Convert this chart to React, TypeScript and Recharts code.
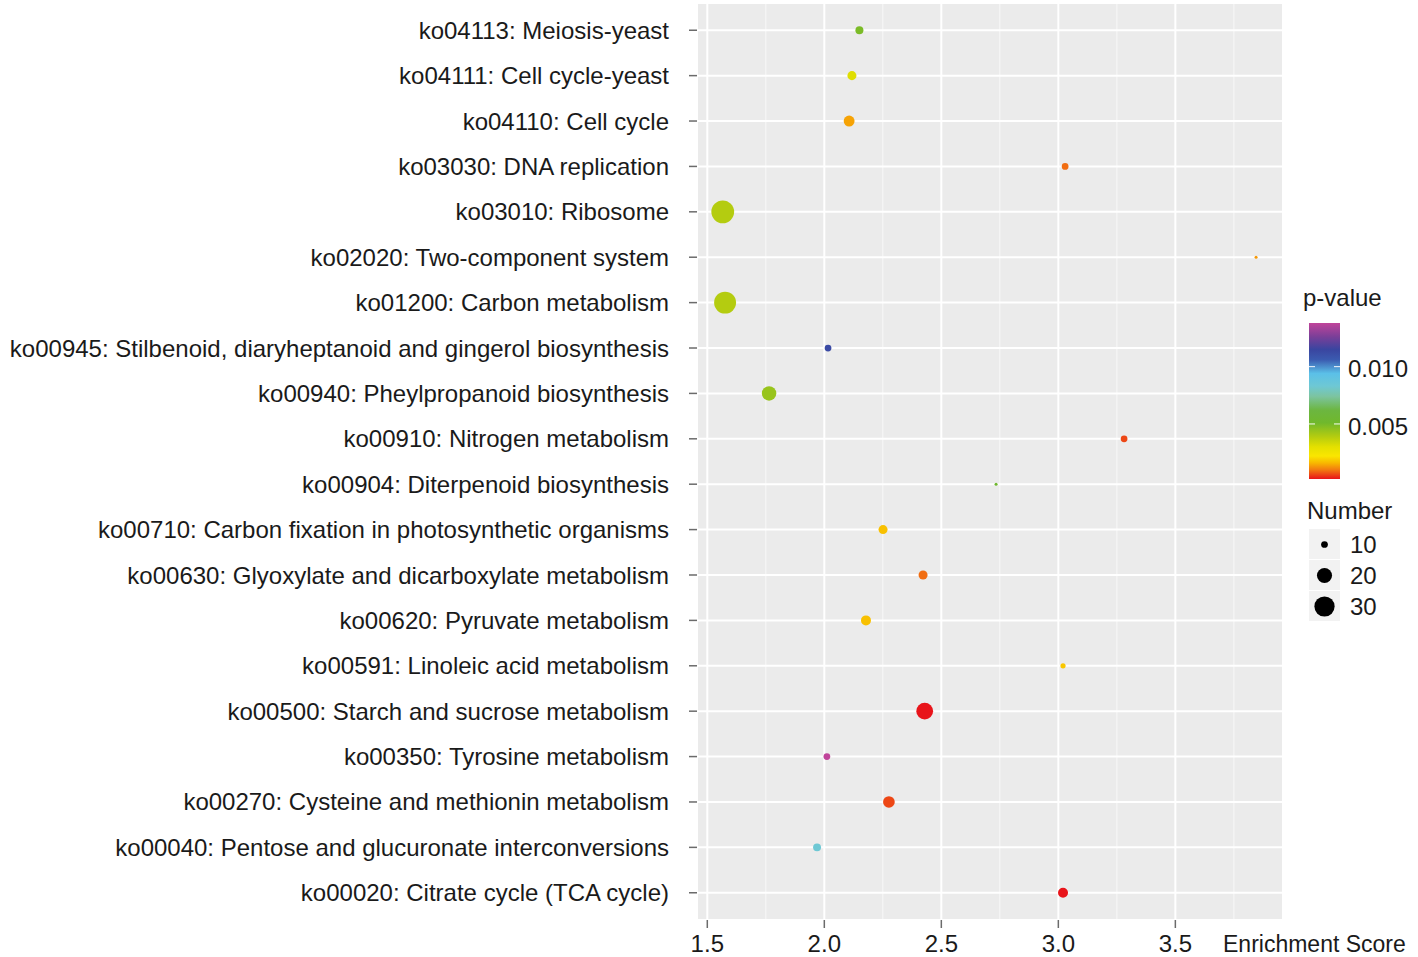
import { ScatterChart, Scatter, XAxis, YAxis, ZAxis, CartesianGrid, Cell } from "recharts";

const FONT = '"Liberation Sans", Arial, Helvetica, sans-serif';
const TEXT = "#1a1a1a";
const FS = 24;

// rows, top to bottom as drawn
const categories = [
  "ko04113: Meiosis-yeast",
  "ko04111: Cell cycle-yeast",
  "ko04110: Cell cycle",
  "ko03030: DNA replication",
  "ko03010: Ribosome",
  "ko02020: Two-component system",
  "ko01200: Carbon metabolism",
  "ko00945: Stilbenoid, diaryheptanoid and gingerol biosynthesis",
  "ko00940: Pheylpropanoid biosynthesis",
  "ko00910: Nitrogen metabolism",
  "ko00904: Diterpenoid biosynthesis",
  "ko00710: Carbon fixation in photosynthetic organisms",
  "ko00630: Glyoxylate and dicarboxylate metabolism",
  "ko00620: Pyruvate metabolism",
  "ko00591: Linoleic acid metabolism",
  "ko00500: Starch and sucrose metabolism",
  "ko00350: Tyrosine metabolism",
  "ko00270: Cysteine and methionin metabolism",
  "ko00040: Pentose and glucuronate interconversions",
  "ko00020: Citrate cycle (TCA cycle)",
];

const enrichmentScore = [
  2.15, 2.118, 2.106, 3.029, 1.566, 3.845, 1.576, 2.016, 1.764, 3.281,
  2.734, 2.251, 2.422, 2.178, 3.02, 2.429, 2.011, 2.276, 1.969, 3.02,
];

const geneNumber = [11, 12, 14, 10, 36, 8, 34, 10, 19, 10, 8, 12, 12, 13, 9, 23, 10, 15, 11, 13];

const pValue = [
  0.0049, 0.0031, 0.0014, 0.0009, 0.0039, 0.0013, 0.0039, 0.0113, 0.0044, 0.0006,
  0.0052, 0.0017, 0.0009, 0.0017, 0.0018, 0.0002, 0.0138, 0.0006, 0.0083, 0.0002,
];

const X_DOMAIN: [number, number] = [1.456, 3.96];
const xTicks = [1.5, 2.0, 2.5, 3.0, 3.5];
const xMinorTicks = [1.75, 2.25, 2.75, 3.25, 3.75];
const sizeBreaks = [10, 20, 30];
const pBreaks = [0.01, 0.005];

// colour ramp of the p-value scale
const colorStops: [number, string][] = [
  [0.0002, "#e8141a"],
  [0.001, "#f27a10"],
  [0.0016, "#f8b800"],
  [0.0022, "#fae600"],
  [0.003, "#e4e000"],
  [0.0039, "#b4cc10"],
  [0.0051, "#70b82c"],
  [0.0062, "#6cb640"],
  [0.0074, "#7cc4a0"],
  [0.0083, "#6ec8d4"],
  [0.0094, "#5bc0e8"],
  [0.0106, "#3b5bb0"],
  [0.0115, "#3a45a0"],
  [0.0126, "#7a3f98"],
  [0.0138, "#c0449a"],
];
const P_MIN = colorStops[0][0];
const P_MAX = colorStops[colorStops.length - 1][0];

const hexToRgb = (h: string) => [1, 3, 5].map((i) => parseInt(h.slice(i, i + 2), 16));

function pColor(p: number) {
  if (p <= P_MIN) return colorStops[0][1];
  if (p >= P_MAX) return colorStops[colorStops.length - 1][1];
  for (let i = 1; i < colorStops.length; i++) {
    const [p1, c1] = colorStops[i];
    if (p <= p1) {
      const [p0, c0] = colorStops[i - 1];
      const t = (p - p0) / (p1 - p0);
      const a = hexToRgb(c0);
      const b = hexToRgb(c1);
      const mix = a.map((v, k) => Math.round(v + (b[k] - v) * t));
      return `rgb(${mix[0]},${mix[1]},${mix[2]})`;
    }
  }
  return colorStops[colorStops.length - 1][1];
}

// bubble area grows linearly with gene number (same rule for ZAxis and legend)
const bubbleArea = (n: number) => 14.3 * (n - 7.5);
const N_MIN = Math.min(...geneNumber);
const N_MAX = Math.max(...geneNumber);

const data = categories.map((name, i) => ({
  name,
  row: i,
  score: enrichmentScore[i],
  count: geneNumber[i],
  p: pValue[i],
}));

const rowTicks = categories.map((_, i) => i);

// minor vertical grid lines, placed with the x axis scale
const minorVertical = ({ xAxis, offset }: any) => {
  if (xAxis && typeof xAxis.scale === "function") {
    return xMinorTicks.map((t) => xAxis.scale(t));
  }
  const [d0, d1] = X_DOMAIN;
  return xMinorTicks.map((t) => offset.left + ((t - d0) / (d1 - d0)) * offset.width);
};

const AxisTitle = (props: any) => {
  const vb = props.viewBox || { x: 0, y: 0, width: 0 };
  return (
    <text x={vb.x + vb.width - 60} y={vb.y + 32} fontSize={23} fill={TEXT} fontFamily={FONT}>
      Enrichment Score
    </text>
  );
};

function Legend() {
  const barX = 1309;
  const barY = 323;
  const barW = 31;
  const barH = 156;
  const yOf = (p: number) => barY + barH - ((p - P_MIN) / (P_MAX - P_MIN)) * barH;
  const keyTop = 529;
  const keyH = 31;
  return (
    <svg width={1418} height={957} style={{ position: "absolute", left: 0, top: 0, pointerEvents: "none" }}>
      <defs>
        <linearGradient id="pgrad" x1="0" y1="1" x2="0" y2="0">
          {colorStops.map(([p, c]) => (
            <stop key={p} offset={(p - P_MIN) / (P_MAX - P_MIN)} stopColor={c} />
          ))}
        </linearGradient>
      </defs>
      <text x={1303} y={306} fontSize={FS} fill={TEXT} fontFamily={FONT}>
        p-value
      </text>
      <rect x={barX} y={barY} width={barW} height={barH} fill="url(#pgrad)" />
      {pBreaks.map((p) => (
        <g key={p}>
          <line x1={barX} x2={barX + 6} y1={yOf(p)} y2={yOf(p)} stroke="#ffffff" strokeOpacity={0.8} strokeWidth={1.2} />
          <line x1={barX + barW - 6} x2={barX + barW} y1={yOf(p)} y2={yOf(p)} stroke="#ffffff" strokeOpacity={0.8} strokeWidth={1.2} />
          <text x={1348} y={yOf(p) + 2} dy="0.36em" fontSize={FS} fill={TEXT} fontFamily={FONT}>
            {p.toFixed(3)}
          </text>
        </g>
      ))}
      <text x={1307} y={519} fontSize={FS} fill={TEXT} fontFamily={FONT}>
        Number
      </text>
      {sizeBreaks.map((n, i) => {
        const cy = keyTop + i * keyH + keyH / 2;
        return (
          <g key={n}>
            <rect x={barX} y={keyTop + i * keyH} width={barW} height={keyH - 1} fill="#f2f2f2" />
            <circle cx={barX + barW / 2} cy={cy} r={Math.sqrt(bubbleArea(n) / Math.PI)} fill="#000000" />
            <text x={1350} y={cy} dy="0.36em" fontSize={FS} fill={TEXT} fontFamily={FONT}>
              {n}
            </text>
          </g>
        );
      })}
    </svg>
  );
}

export default function App() {
  return (
    <div style={{ position: "absolute", left: 0, top: 0, width: 1418, height: 957, background: "#ffffff", fontFamily: FONT }}>
      <ScatterChart width={1418} height={957} margin={{ top: 3, right: 135, left: 0, bottom: 0 }}>
        <CartesianGrid
          horizontal={false}
          fill="#ebebeb"
          stroke="#f6f6f6"
          strokeWidth={1.2}
          verticalCoordinatesGenerator={minorVertical}
        />
        <CartesianGrid stroke="#ffffff" strokeWidth={2} />
        <XAxis
          type="number"
          dataKey="score"
          domain={X_DOMAIN}
          allowDataOverflow
          ticks={xTicks}
          interval={0}
          tickFormatter={(v: number) => v.toFixed(1)}
          tick={{ fontSize: FS, fill: TEXT, fontFamily: FONT }}
          tickLine={{ stroke: "#6b6b6b", strokeWidth: 1.5 }}
          tickSize={8}
          tickMargin={7}
          axisLine={false}
          height={37}
          label={<AxisTitle />}
        />
        <YAxis
          type="number"
          dataKey="row"
          domain={[-0.6, categories.length - 0.4]}
          allowDataOverflow
          reversed
          ticks={rowTicks}
          interval={0}
          tickFormatter={(v: number) => categories[v] ?? ""}
          tick={{ fontSize: FS, fill: TEXT, fontFamily: FONT }}
          tickLine={{ stroke: "#6b6b6b", strokeWidth: 1.5 }}
          tickSize={8}
          tickMargin={20}
          axisLine={false}
          width={697}
        />
        <ZAxis
          type="number"
          dataKey="count"
          domain={[N_MIN, N_MAX]}
          range={[bubbleArea(N_MIN), bubbleArea(N_MAX)]}
        />
        <Scatter data={data} shape="circle" isAnimationActive={false}>
          {data.map((d) => (
            <Cell key={d.name} fill={pColor(d.p)} />
          ))}
        </Scatter>
      </ScatterChart>
      <Legend />
    </div>
  );
}
